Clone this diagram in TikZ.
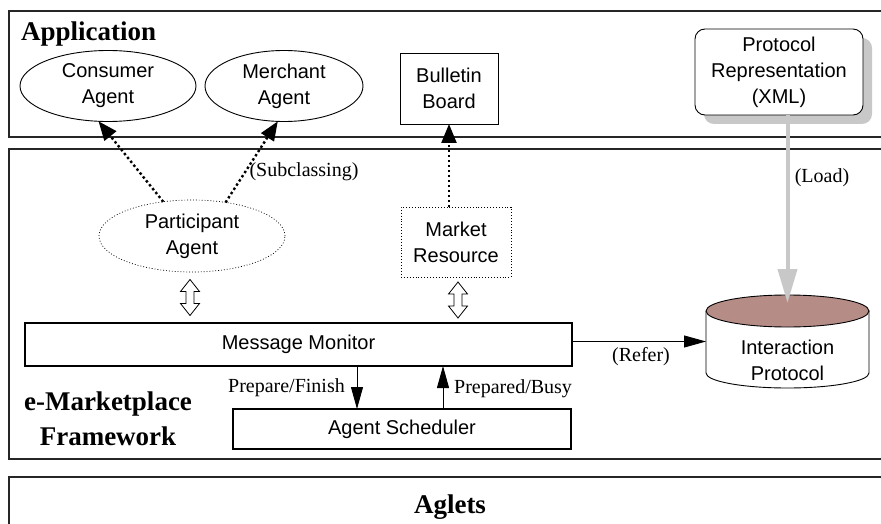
\documentclass[tikz,border=0pt]{standalone}
\usepackage{fontspec}
\setmainfont{Liberation Serif}
\setsansfont{Liberation Sans}
\usetikzlibrary{arrows.meta,shapes.geometric,calc}
\definecolor{dbfill}{RGB}{182,140,135}
\definecolor{loadgray}{RGB}{200,200,200}
\begin{document}
\begin{tikzpicture}[x=1pt,y=-1pt,
  layer/.style={draw=black!85,line width=1.2pt},
  title/.style={font=\fontsize{27}{32}\selectfont\bfseries,inner sep=0pt},
  lbl/.style={font=\fontsize{20}{24}\selectfont,inner sep=0pt},
  sans/.style={font=\sffamily\fontsize{20}{26}\selectfont,align=center},
  agentell/.style={sans,ellipse,draw,line width=0.9pt,inner sep=0pt,outer sep=0pt},
  plainbox/.style={sans,draw,line width=0.9pt,inner sep=0pt,outer sep=0pt},
  thickbox/.style={sans,draw,line width=2.5pt,inner sep=0pt,outer sep=0pt},
  dotarrow/.style={line width=2.4pt,dash pattern=on 2.4pt off 2.6pt,-{Triangle[length=19pt,width=15pt]}},
  flow/.style={line width=0.9pt,-{Triangle[length=22pt,width=12pt]}},
  hollowarrow/.style={draw,line width=0.8pt,fill=white,line join=miter},
]
\clip (0,0) rectangle (881,524);

% layers
\draw[layer] (9,11) rectangle (900,137);
\draw[layer] (9,149) rectangle (900,459);
\draw[layer] (9,477) rectangle (900,540);

\node[title,anchor=base west] (apptitle) at (21,41) {Application};
\node[title,anchor=base] (fw1) at (108,410) {e-Marketplace};
\node[title,anchor=base] (fw2) at (108,445) {Framework};
\node[title,anchor=base] (aglets) at (450,513) {Aglets};

% application layer
\node[agentell,minimum width=176pt,minimum height=71pt] (cons) at (108,86) {Consumer\\Agent};
\node[agentell,minimum width=158pt,minimum height=71pt] (merch) at (284,86) {Merchant\\Agent};
\node[plainbox,minimum width=98pt,minimum height=71pt] (bb) at (449,88.5) {Bulletin\\Board};
\fill[loadgray,rounded corners=10pt] (704,38) rectangle (872,124);
\node[plainbox,rounded corners=10pt,fill=white,minimum width=168pt,minimum height=86pt] (proto) at (779,72) {Protocol\\Representation\\(XML)};

% framework layer
\node[agentell,dotted,line width=0.7pt,minimum width=186pt,minimum height=72pt] (part) at (192,236) {Participant\\Agent};
\node[plainbox,dotted,line width=0.7pt,minimum width=110pt,minimum height=70pt] (mr) at (456,242) {Market\\Resource};
\node[thickbox,minimum width=547pt,minimum height=43pt] (mm) at (298.5,344.5) {Message Monitor};
\node[thickbox,minimum width=338pt,minimum height=40pt] (as) at (402,429) {Agent Scheduler};

% interaction protocol store
\node[minimum width=163pt,minimum height=93pt,inner sep=0pt,outer sep=0pt] (ip) at (787.5,341.5) {};
\path[draw,fill=white,line width=0.9pt] (706,311) -- (706,373)
  arc[start angle=180,end angle=0,x radius=81.5,y radius=15] -- (869,311);
\draw[fill=dbfill,line width=0.9pt] (787.5,311) ellipse[x radius=81.5,y radius=16];
\node[sans] (iptext) at (787.5,360) {Interaction\\Protocol};

% two-way message exchange arrows
\coordinate (dpa) at ($(part.south)!0.5!(part.south |- mm.north)+(-2,0)$);
\coordinate (dmr) at ($(mr.south)!0.5!(mr.south |- mm.north)+(2,0)$);
\foreach \c in {dpa,dmr}
  \draw[hollowarrow,shift={(\c)}] (0,-18) -- (9.5,-6) -- (4,-6) -- (4,6) -- (9.5,6) -- (0,18)
    -- (-9.5,6) -- (-4,6) -- (-4,-6) -- (-9.5,-6) -- cycle;

% connectors
\draw[dotarrow] (part.130) -- (cons.255);
\draw[dotarrow] (part.45) -- (merch.260);
\draw[dotarrow] (mr.north -| bb.south) -- (bb.south);
\draw[line width=4pt,loadgray,-{Triangle[length=34pt,width=19pt]}] (proto.south -| ip.north) -- ($(ip.north)+(0,8)$);
\draw[flow] (mm.east |- ip.west) -- (ip.west);
\coordinate (pfx) at (357,0);
\coordinate (pbx) at (443,0);
\draw[flow] (pfx |- mm.south) -- (pfx |- as.north);
\draw[flow] (pbx |- as.north) -- (pbx |- mm.south);

% labels
\node[lbl] (subl) at (304,172) {(Subclassing)};
\node[lbl] (loadl) at (822,178) {(Load)};
\node[lbl] (referl) at (641,357) {(Refer)};
\node[lbl,anchor=base east] (pfl) at (345,392) {Prepare/Finish};
\node[lbl,anchor=base west] (pbl) at (454,393) {Prepared/Busy};
\end{tikzpicture}
\end{document}
